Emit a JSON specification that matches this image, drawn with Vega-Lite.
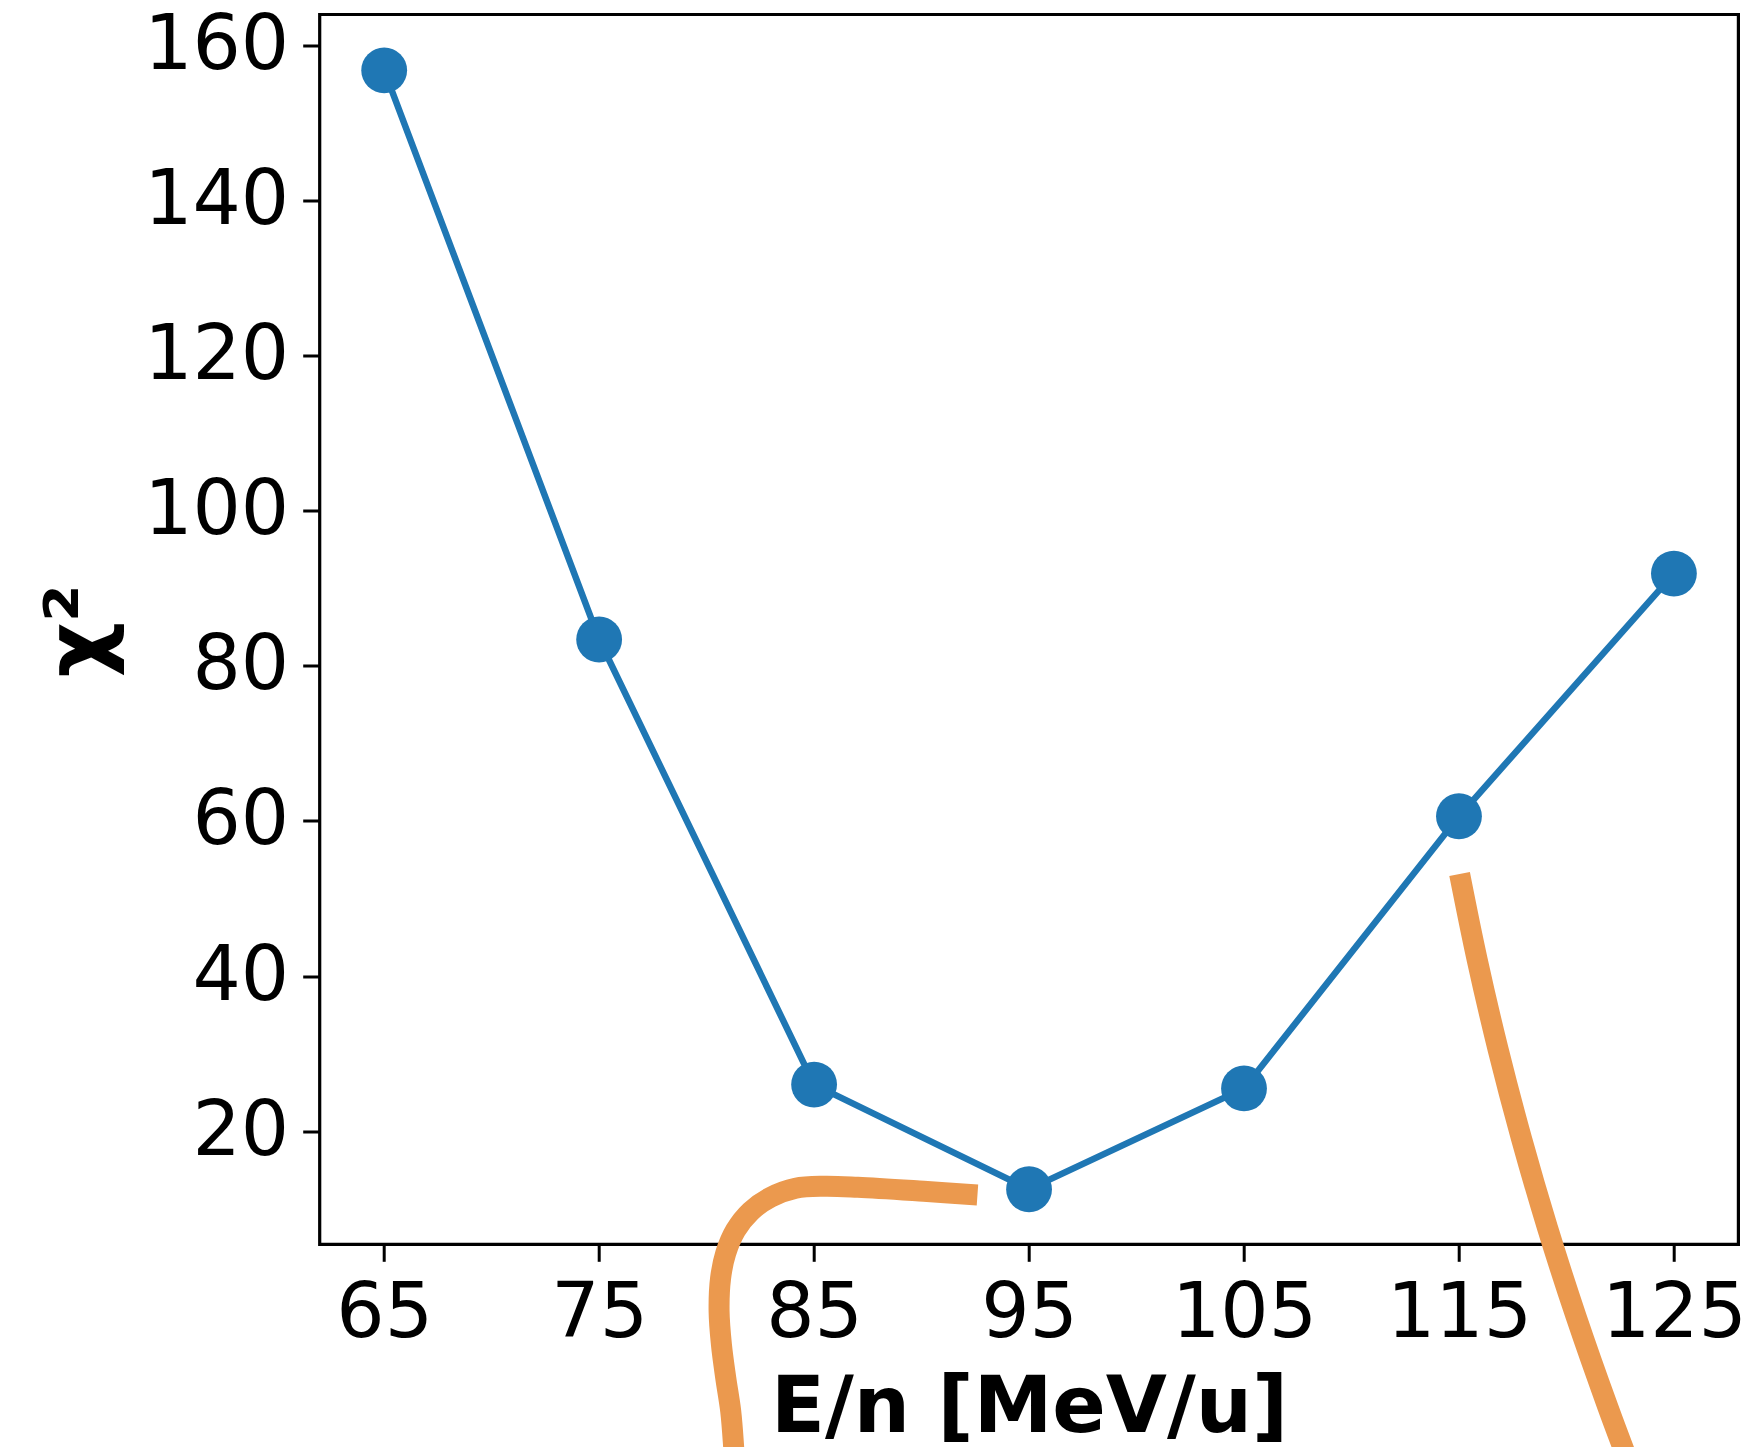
{
  "$schema": "https://vega.github.io/schema/vega-lite/v6.json",
  "autosize": "none",
  "width": 1418.7,
  "height": 1229.8,
  "padding": {"left": 319.7, "top": 14.5, "right": 14.6, "bottom": 202.7},
  "background": "white",
  "config": {
    "view": {"stroke": "black", "strokeWidth": 3.2},
    "font": "DejaVu Sans"
  },
  "datasets": {
    "chi": [
      {"E": 65, "chi2": 156.8},
      {"E": 75, "chi2": 83.4},
      {"E": 85, "chi2": 26.0},
      {"E": 95, "chi2": 12.5},
      {"E": 105, "chi2": 25.5},
      {"E": 115, "chi2": 60.6},
      {"E": 125, "chi2": 91.9}
    ],
    "curves": [
      {"c": "a", "i": 0, "E": 92.60, "chi2": 11.76},
      {"c": "a", "i": 1, "E": 90.10, "chi2": 12.24},
      {"c": "a", "i": 2, "E": 87.03, "chi2": 12.76},
      {"c": "a", "i": 3, "E": 85.45, "chi2": 12.89},
      {"c": "a", "i": 4, "E": 84.14, "chi2": 12.63},
      {"c": "a", "i": 5, "E": 82.98, "chi2": 11.47},
      {"c": "a", "i": 6, "E": 82.05, "chi2": 9.66},
      {"c": "a", "i": 7, "E": 81.35, "chi2": 7.22},
      {"c": "a", "i": 8, "E": 80.89, "chi2": 4.26},
      {"c": "a", "i": 9, "E": 80.65, "chi2": 1.04},
      {"c": "a", "i": 10, "E": 80.58, "chi2": -3.21},
      {"c": "a", "i": 11, "E": 80.69, "chi2": -7.56},
      {"c": "a", "i": 12, "E": 80.89, "chi2": -11.84},
      {"c": "a", "i": 13, "E": 81.12, "chi2": -16.10},
      {"c": "a", "i": 14, "E": 81.25, "chi2": -20.43},
      {"c": "a", "i": 15, "E": 81.31, "chi2": -23.44},
      {"c": "b", "i": 0, "E": 115.03, "chi2": 53.16},
      {"c": "b", "i": 1, "E": 115.85, "chi2": 42.07},
      {"c": "b", "i": 2, "E": 116.82, "chi2": 30.54},
      {"c": "b", "i": 3, "E": 117.91, "chi2": 19.03},
      {"c": "b", "i": 4, "E": 119.12, "chi2": 7.51},
      {"c": "b", "i": 5, "E": 120.46, "chi2": -4.01},
      {"c": "b", "i": 6, "E": 121.92, "chi2": -15.53},
      {"c": "b", "i": 7, "E": 122.99, "chi2": -23.45}
    ]
  },
  "encoding": {
    "x": {
      "field": "E", "type": "quantitative",
      "scale": {"domain": [62, 128], "nice": false, "zero": false},
      "axis": {
        "values": [65, 75, 85, 95, 105, 115, 125],
        "title": "E/n [MeV/u]",
        "domain": false, "grid": false,
        "tickColor": "black", "tickWidth": 3, "tickSize": 17,
        "labelFont": "DejaVu Sans", "labelFontSize": 76, "labelColor": "black",
        "labelPadding": 15, "labelFlush": false, "labelOverlap": false,
        "titleFont": "DejaVu Sans", "titleFontSize": 79, "titleFontWeight": "bold",
        "titleColor": "black", "titleBaseline": "alphabetic",
        "titleX": 709.35, "titleY": 187, "titleAlign": "center"
      }
    },
    "y": {
      "field": "chi2", "type": "quantitative",
      "scale": {"domain": [5.4, 164.0], "nice": false, "zero": false},
      "axis": {
        "values": [20, 40, 60, 80, 100, 120, 140, 160],
        "title": "χ²",
        "domain": false, "grid": false,
        "tickColor": "black", "tickWidth": 3, "tickSize": 17,
        "labelFont": "DejaVu Sans", "labelFontSize": 76, "labelColor": "black",
        "labelPadding": 14, "labelFlush": false, "labelOverlap": false,
        "titleFont": "DejaVu Sans", "titleFontSize": 86, "titleFontWeight": "bold",
        "titleColor": "black", "titleBaseline": "alphabetic", "titleAngle": -90,
        "titleX": -214, "titleY": 616, "titleAlign": "center"
      }
    }
  },
  "layer": [
    {
      "data": {"name": "chi"},
      "mark": {"type": "line", "color": "#1f77b4", "strokeWidth": 6.5},
      "encoding": {}
    },
    {
      "data": {"name": "chi"},
      "mark": {"type": "point", "filled": true, "shape": "circle", "color": "#1f77b4", "opacity": 1, "size": 2100},
      "encoding": {}
    },
    {
      "data": {"name": "curves"},
      "mark": {"type": "line", "color": "#eb994e", "strokeWidth": 21, "strokeCap": "butt", "interpolate": "catmull-rom", "clip": false},
      "encoding": {
        "detail": {"field": "c", "type": "nominal"},
        "order": {"field": "i", "type": "quantitative"}
      }
    }
  ]
}
